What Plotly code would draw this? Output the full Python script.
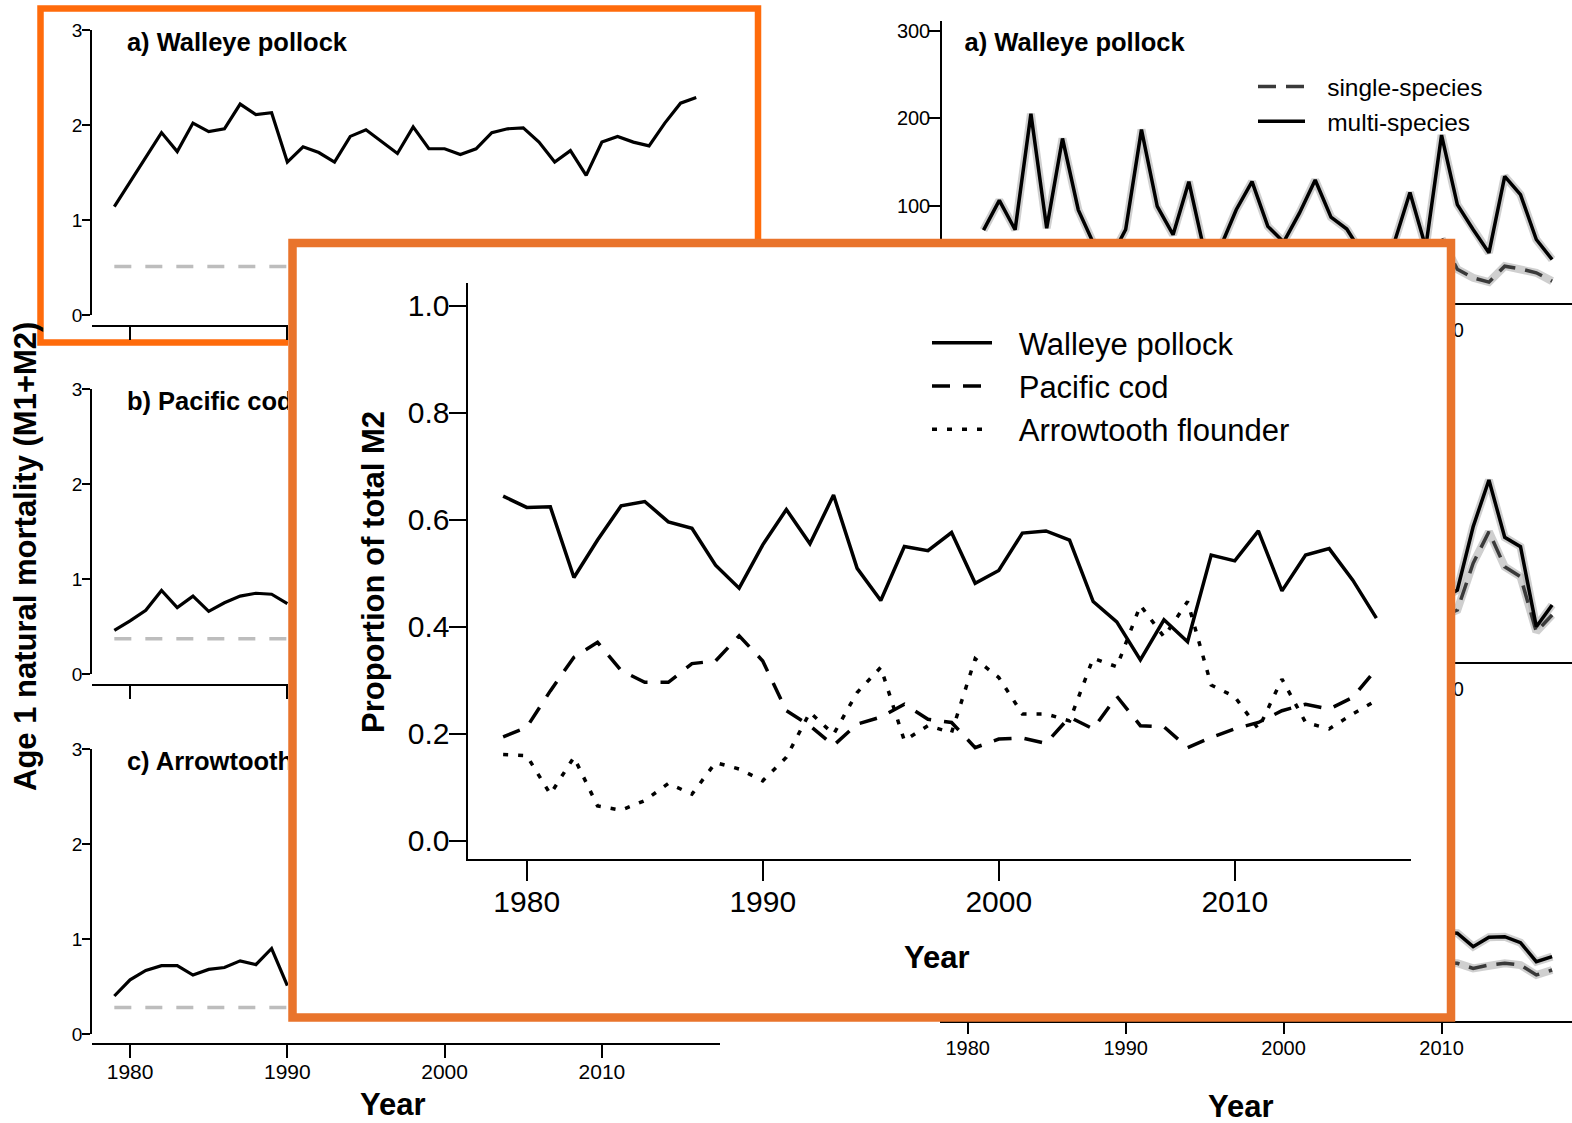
import plotly.graph_objects as go

W, H = 1572, 1123
FONT = "Liberation Sans, Arial, sans-serif"


def fx(p):
    return p / W


def fy(p):
    return 1 - p / H


# ---------------- data ----------------
years = list(range(1979, 2017))

# Left panel: age-1 natural mortality (M1+M2), multi-species model
pollock_M = [1.14, 1.40, 1.65, 1.92, 1.72, 2.02, 1.93, 1.96, 2.22, 2.11,
             2.13, 1.61, 1.77, 1.71, 1.61, 1.88, 1.95, 1.82, 1.70, 1.98,
             1.75, 1.75, 1.69, 1.75, 1.92, 1.96, 1.97, 1.82, 1.61, 1.73,
             1.47, 1.82, 1.88, 1.82, 1.78, 2.02, 2.23, 2.29]
cod_years = list(range(1979, 1991))
cod_M = [0.46, 0.56, 0.67, 0.88, 0.70, 0.82, 0.66, 0.75, 0.82, 0.85, 0.84, 0.74]
arrow_years = list(range(1979, 1991))
arrow_M = [0.40, 0.57, 0.67, 0.72, 0.72, 0.62, 0.68, 0.70, 0.77, 0.73, 0.90, 0.51]
# single-species M1 (constant)
M1_ss = {"pollock": 0.51, "cod": 0.37, "arrow": 0.28}

# Right panel series
ms_years_a = list(range(1981, 2018))
ms_pollock = [71.8, 105.9, 72.2, 205.5, 74, 177, 95, 55, 38, 72.4,
              187.2, 98.9, 66.5, 127.4, 46, 52, 95.2, 127.4, 76, 58,
              91.2, 129.3, 86.7, 73, 44, 45, 57, 115, 52, 181,
              101, 72.4, 45.7, 133.5, 112.6, 61, 38]
ss_years_a = list(range(2010, 2018))
ss_pollock = [62, 26.7, 17, 12, 30.3, 27.2, 22.7, 13.1]

bc_years = list(range(2010, 2018))
ms_cod = [60, 70.7, 143.4, 197.1, 131.3, 120.5, 28.6, 53.5]
ss_cod = [40, 47.7, 101.4, 137.7, 97.5, 86, 22.8, 42]
ms_arrow = [90, 88.8, 73.4, 84.2, 84.9, 78, 56.1, 61.9]
ss_arrow = [55, 54.3, 48.5, 52.3, 54.3, 52.3, 40.9, 46.6]

# Inset: proportion of total M2 by predator
prop_pollock = [0.644, 0.623, 0.624, 0.492, 0.562, 0.626, 0.634, 0.596, 0.584, 0.515,
                0.472, 0.553, 0.619, 0.555, 0.646, 0.509, 0.449, 0.550, 0.542, 0.576,
                0.481, 0.505, 0.575, 0.579, 0.562, 0.447, 0.409, 0.338, 0.413, 0.372,
                0.534, 0.523, 0.579, 0.467, 0.534, 0.546, 0.487, 0.416]
prop_cod = [0.194, 0.212, 0.280, 0.343, 0.371, 0.318, 0.296, 0.296, 0.331, 0.336,
            0.383, 0.336, 0.243, 0.215, 0.178, 0.218, 0.231, 0.255, 0.227, 0.221,
            0.174, 0.190, 0.192, 0.182, 0.231, 0.209, 0.270, 0.215, 0.213, 0.174,
            0.193, 0.209, 0.221, 0.243, 0.255, 0.246, 0.268, 0.321]
prop_arrow = [0.161, 0.159, 0.087, 0.156, 0.065, 0.057, 0.075, 0.107, 0.087, 0.146,
              0.134, 0.112, 0.156, 0.240, 0.199, 0.277, 0.324, 0.187, 0.215, 0.202,
              0.340, 0.305, 0.237, 0.237, 0.224, 0.341, 0.325, 0.440, 0.381, 0.447,
              0.291, 0.269, 0.209, 0.302, 0.221, 0.209, 0.237, 0.262]

xticks = [1980, 1990, 2000, 2010]
panel_labels = ["a) Walleye pollock", "b) Pacific cod", "c) Arrowtooth flounder"]
GAP = "\u2002\u2009"  # space between legend sample and label

# ---------------- figure ----------------
fig = go.Figure()

BLACK = "black"
GREY_DASH = "#bdbdbd"

# --- left panel (subplots 1-3)
left_series = [(years, pollock_M, M1_ss["pollock"]),
               (cod_years, cod_M, M1_ss["cod"]),
               (arrow_years, arrow_M, M1_ss["arrow"])]
for i, (xs, ys, m1) in enumerate(left_series):
    xa, ya = "x%d" % (i + 1), "y%d" % (i + 1)
    fig.add_trace(go.Scatter(x=[years[0], years[-1]], y=[m1, m1], mode="lines",
                             line=dict(color=GREY_DASH, width=3.5, dash="17px,14px"),
                             xaxis=xa, yaxis=ya, showlegend=False, hoverinfo="skip"))
    fig.add_trace(go.Scatter(x=xs, y=ys, mode="lines",
                             line=dict(color=BLACK, width=3.2),
                             xaxis=xa, yaxis=ya, showlegend=False))
    fig.add_trace(go.Scatter(x=[1979.8], y=[2.85], mode="text",
                             text=["<b>%s</b>" % panel_labels[i]], textposition="middle right",
                             textfont=dict(family=FONT, size=25.5, color=BLACK),
                             xaxis=xa, yaxis=ya, showlegend=False, hoverinfo="skip"))

# --- right panel (subplots 4-6)
right_series = [(ms_years_a, ms_pollock, ss_years_a, ss_pollock),
                (bc_years, ms_cod, bc_years, ss_cod),
                (bc_years, ms_arrow, bc_years, ss_arrow)]
for i, (mx, my, sx, sy) in enumerate(right_series):
    xa, ya = "x%d" % (i + 4), "y%d" % (i + 4)
    lg = "legend2"
    for xs, ys in ((sx, sy), (mx, my)):
        fig.add_trace(go.Scatter(x=xs, y=ys, mode="lines",
                                 line=dict(color="rgba(175,175,175,0.6)", width=8),
                                 xaxis=xa, yaxis=ya, showlegend=False, hoverinfo="skip"))
    fig.add_trace(go.Scatter(x=sx, y=sy, mode="lines", name=GAP + "single-species",
                             line=dict(color="#3a3a3a", width=3.5, dash="18px,10px"),
                             xaxis=xa, yaxis=ya, legend=lg, showlegend=(i == 0)))
    fig.add_trace(go.Scatter(x=mx, y=my, mode="lines", name=GAP + "multi-species",
                             line=dict(color=BLACK, width=3.5),
                             xaxis=xa, yaxis=ya, legend=lg, showlegend=(i == 0)))
    if i == 0:
        fig.add_trace(go.Scatter(x=[1979.8], y=[284.5], mode="text",
                                 text=["<b>%s</b>" % panel_labels[i]], textposition="middle right",
                                 textfont=dict(family=FONT, size=25.5, color=BLACK),
                                 xaxis=xa, yaxis=ya, showlegend=False, hoverinfo="skip"))

# --- blank white cover subplot (7) for the inset panel
fig.add_trace(go.Scatter(x=[None], y=[None], mode="lines", xaxis="x7", yaxis="y7",
                         showlegend=False, hoverinfo="skip"))

# --- inset (subplot 8)
inset = [("Walleye pollock", prop_pollock, "solid"),
         ("Pacific cod", prop_cod, "18px,13px"),
         ("Arrowtooth flounder", prop_arrow, "5px,10px")]
for name, ys, dash in inset:
    fig.add_trace(go.Scatter(x=years, y=ys, mode="lines", name=GAP + name,
                             line=dict(color=BLACK, width=3.5, dash=dash),
                             xaxis="x8", yaxis="y8", legend="legend"))

# ---------------- axes ----------------
axis_common = dict(showgrid=False, zeroline=False, showline=True, linecolor=BLACK,
                   ticks="outside", tickcolor=BLACK, automargin=False)
layout = {}

left_ydom = [(315, 30), (674, 389), (1034, 749)]
left_xpos = [326, 685, 1044]
for i in range(3):
    n = i + 1
    layout["xaxis%d" % n] = dict(axis_common, domain=[fx(92), fx(720)], range=[1977.58, 2017.51],
                                 anchor="free", position=fy(left_xpos[i]), linewidth=1.5,
                                 tickwidth=1.5, ticklen=13, tickvals=xticks,
                                 showticklabels=(i == 2), ticklabelstandoff=-4,
                                 tickfont=dict(family=FONT, size=21, color=BLACK))
    b, t = left_ydom[i]
    layout["yaxis%d" % n] = dict(axis_common, domain=[fy(b), fy(t)], range=[0, 3],
                                 anchor="x%d" % n, linewidth=1.5, tickwidth=1.5, ticklen=8,
                                 tickvals=[0, 1, 2, 3], ticklabelstandoff=-4,
                                 tickfont=dict(family=FONT, size=19, color=BLACK))

right_ydom = [(303, 21), (662, 380), (1021, 739)]
for i in range(3):
    n = i + 4
    b, t = right_ydom[i]
    layout["xaxis%d" % n] = dict(axis_common, domain=[fx(942), 1.0], range=[1978.37, 2018.26],
                                 anchor="y%d" % n, linewidth=1.5, tickwidth=1.5, ticklen=11,
                                 tickvals=(xticks if i == 2 else [2010]), ticklabelstandoff=-3,
                                 tickfont=dict(family=FONT, size=20, color=BLACK))
    layout["yaxis%d" % n] = dict(axis_common, domain=[fy(b), fy(t)], range=[-12, 312],
                                 anchor="x%d" % n, linewidth=1.5, tickwidth=1.5, ticklen=12,
                                 tickvals=[0, 100, 200, 300], ticklabelstandoff=-6,
                                 tickfont=dict(family=FONT, size=20, color=BLACK))

layout["xaxis7"] = dict(domain=[fx(288), fx(1455)], range=[0, 1], visible=False,
                        anchor="y7", automargin=False)
layout["yaxis7"] = dict(domain=[fy(1021), fy(239)], range=[0, 1], visible=False,
                        anchor="x7", automargin=False)

layout["xaxis8"] = dict(axis_common, domain=[fx(467.5), fx(1410.6)], range=[1977.49, 2017.45],
                        anchor="y8", linewidth=2, tickwidth=1.5, ticklen=20, tickvals=xticks,
                        ticklabelstandoff=-5,
                        tickfont=dict(family=FONT, size=30, color=BLACK))
layout["yaxis8"] = dict(axis_common, domain=[fy(859), fy(283)], range=[-0.0342, 1.0424],
                        anchor="x8", linewidth=2, tickwidth=1.5, ticklen=17,
                        tickvals=[0, 0.2, 0.4, 0.6, 0.8, 1.0], tickformat=".1f",
                        ticklabelstandoff=-7,
                        tickfont=dict(family=FONT, size=30, color=BLACK))

fig.update_layout(**layout)

# ---------------- text ----------------
def title(text, x, y, size=31, angle=0):
    return dict(text="<b>%s</b>" % text, x=fx(x), y=fy(y), xref="paper", yref="paper",
                xanchor="center", yanchor="middle", showarrow=False, textangle=angle,
                font=dict(family=FONT, size=size, color=BLACK))

fig.update_layout(annotations=[
    title("Age 1 natural mortality (M1+M2)", 25, 557, angle=-90),
    title("Year", 393, 1104),
    title("Year", 1241, 1106),
    title("Proportion of total M2", 373, 572, angle=-90),
    title("Year", 937, 957),
])

# ---------------- frames ----------------
fig.update_layout(shapes=[
    dict(type="rect", xref="paper", yref="paper", layer="below",
         x0=fx(40.5), x1=fx(758), y0=fy(342.5), y1=fy(8.5),
         line=dict(color="#FF6B0B", width=6.5), fillcolor="rgba(0,0,0,0)"),
    dict(type="rect", xref="paper", yref="paper", layer="above",
         x0=fx(292.5), x1=fx(1451), y0=fy(1017.5), y1=fy(243),
         line=dict(color="#E9742C", width=8.5), fillcolor="rgba(0,0,0,0)"),
])

fig.update_layout(
    template="none",
    width=W, height=H, margin=dict(l=0, r=0, t=0, b=0, pad=0, autoexpand=False),
    paper_bgcolor="white", plot_bgcolor="white",
    font=dict(family=FONT, color=BLACK),
    legend=dict(x=fx(927), y=fy(316), xanchor="left", yanchor="top",
                bgcolor="rgba(0,0,0,0)", borderwidth=0, itemwidth=60,
                font=dict(family=FONT, size=31, color=BLACK), tracegroupgap=0),
    legend2=dict(x=fx(1253), y=fy(64), xanchor="left", yanchor="top",
                 bgcolor="rgba(0,0,0,0)", borderwidth=0, itemwidth=47,
                 font=dict(family=FONT, size=24.5, color=BLACK), tracegroupgap=0),
    hovermode=False,
)

fig.write_html("out.html")
